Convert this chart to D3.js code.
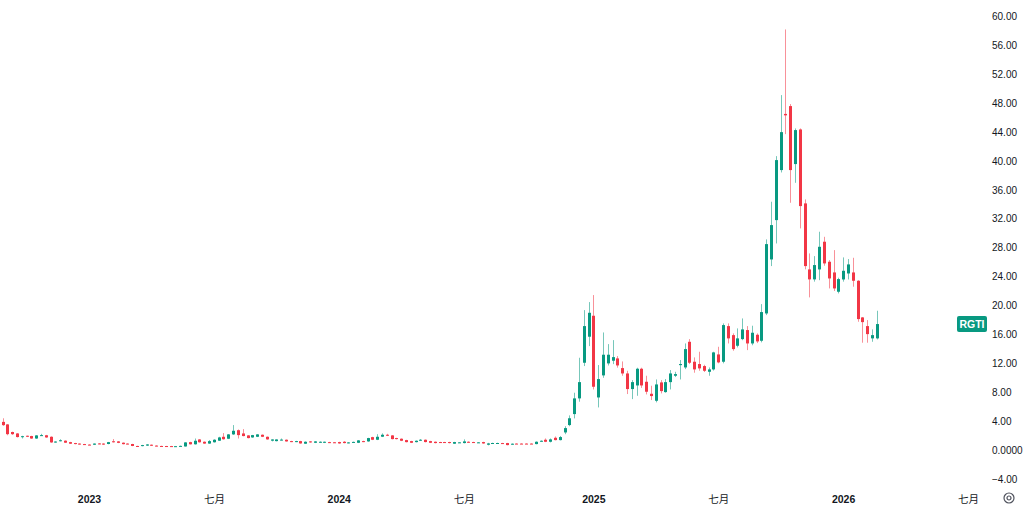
<!DOCTYPE html>
<html>
<head>
<meta charset="utf-8">
<script src="https://cdn.jsdelivr.net/npm/d3@7"></script>
<style>
  html, body { margin: 0; padding: 0; background: #fff; }
  svg { display: block; font-family: "Liberation Sans", "Noto Sans CJK SC", sans-serif; }
</style>
</head>
<body>
<div id="chart"></div>
<script>
// weekly bars, RGTI
const firstWeek = new Date(Date.UTC(2022, 7, 29));
const lastWeek = new Date(Date.UTC(2026, 1, 23));

const open = [
  3.9, 3.55, 2.5, 2.3, 1.85, 1.98, 1.94, 1.6, 1.98, 2.05,
  1.84, 1.1, 1.24, 1.3, 1.1, 0.97, 0.9, 0.83, 0.76, 0.74,
  0.92, 0.9, 0.84, 1.22, 1.2, 1.02, 0.9, 0.84, 0.57, 0.55,
  0.62, 0.74, 0.62, 0.57, 0.56, 0.55, 0.5, 0.53, 0.5, 1.1,
  0.8, 1.47, 1.15, 0.9, 1.08, 1.3, 1.84, 1.57, 2.17, 2.75,
  2.3, 2.03, 1.75, 1.84, 2.12, 1.84, 1.3, 1.24, 1.38, 1.43,
  1.24, 1.15, 1.24, 0.88, 1.2, 1.01, 1.06, 1.01, 1.1, 1.08,
  1.11, 1.15, 0.97, 1.1, 1.01, 1.24, 1.2, 1.79, 1.43, 1.85,
  2.12, 2.03, 1.66, 1.57, 1.38, 1.24, 1.1, 1.3, 1.43, 1.24,
  1.15, 1.11, 1.11, 1.11, 0.88, 1.04, 0.97, 1.15, 1.11, 1.04,
  1.11, 0.74, 0.95, 0.95, 0.97, 0.97, 0.78, 0.9, 0.9, 0.9,
  0.9, 0.83, 1.2, 1.43, 1.15, 1.7, 1.38, 2.44, 3.46, 4.98,
  7.15, 12.08, 15.68, 18.58, 7.28, 10.33, 11.99, 12.36, 12.68, 11.34,
  10.6, 8.44, 8.94, 11.25, 9.45, 7.79, 6.82, 9.36, 8.02, 9.4,
  10.28, 11.75, 11.43, 14.98, 12.22, 11.9, 11.62, 10.83, 11.16, 13.23,
  12.22, 17.15, 15.9, 14.43, 15.35, 16.6, 14.75, 15.95, 15.12, 18.9,
  26.37, 31.81, 38.73, 46.5, 47.58, 39.56, 44.35, 34.12, 24.99, 23.61,
  24.99, 28.82, 26.05, 24.57, 21.9, 23.6, 24.43, 24.57, 23.42, 18.35,
  17.15, 15.45, 15.45, 16.69
];

const high = [
  4.4, 3.6, 2.55, 2.35, 1.98, 2.0, 1.98, 2.07, 2.25, 2.1,
  1.9, 1.22, 1.5, 1.34, 1.14, 1.0, 0.93, 0.86, 0.8, 0.92,
  0.96, 0.93, 1.13, 1.52, 1.25, 1.05, 0.94, 0.87, 0.6, 0.72,
  0.82, 0.77, 0.66, 0.6, 0.58, 0.58, 0.57, 0.62, 1.1, 1.15,
  1.6, 1.52, 1.2, 1.38, 1.5, 1.84, 2.35, 2.22, 3.46, 2.85,
  2.9, 2.07, 2.1, 2.21, 2.16, 1.88, 1.5, 1.5, 1.6, 1.47,
  1.28, 1.28, 1.28, 1.2, 1.24, 1.24, 1.2, 1.18, 1.14, 1.12,
  1.15, 1.24, 1.1, 1.17, 1.38, 1.29, 1.7, 1.84, 2.2, 2.31,
  2.25, 2.07, 1.7, 1.61, 1.42, 1.28, 1.33, 1.52, 1.47, 1.28,
  1.18, 1.14, 1.14, 1.15, 1.14, 1.1, 1.48, 1.2, 1.15, 1.1,
  1.15, 1.0, 1.02, 1.02, 1.0, 1.0, 0.92, 0.93, 0.93, 0.93,
  0.93, 1.2, 1.34, 1.61, 1.61, 1.88, 1.95, 3.3, 4.8, 7.93,
  12.77, 19.36, 20.47, 21.44, 11.76, 16.27, 14.66, 15.21, 13.0, 12.26,
  10.97, 9.68, 11.39, 11.39, 10.28, 8.9, 9.77, 9.68, 9.82, 11.07,
  10.83, 12.45, 14.75, 15.35, 12.82, 13.6, 11.8, 11.43, 13.6, 14.29,
  17.52, 17.52, 16.14, 16.83, 18.21, 17.15, 17.2, 16.14, 20.19, 29.14,
  34.35, 40.66, 49.1, 58.18, 47.86, 44.49, 44.49, 34.67, 27.2, 26.83,
  30.2, 29.5, 26.28, 27.66, 23.84, 26.65, 26.42, 26.6, 23.5, 18.4,
  17.98, 16.69, 19.27, 17.8
];

const low = [
  3.35, 2.05, 2.1, 1.75, 1.6, 1.8, 1.55, 1.55, 1.95, 1.7,
  1.0, 1.02, 1.2, 0.98, 0.85, 0.8, 0.76, 0.72, 0.68, 0.7,
  0.8, 0.72, 0.8, 1.04, 0.96, 0.79, 0.8, 0.54, 0.46, 0.52,
  0.58, 0.57, 0.52, 0.5, 0.49, 0.47, 0.47, 0.5, 0.48, 0.77,
  0.76, 1.04, 0.86, 0.86, 1.04, 1.26, 1.45, 1.52, 2.1, 1.6,
  1.9, 1.62, 1.7, 1.8, 1.8, 1.43, 1.2, 1.2, 1.34, 1.16,
  1.1, 1.1, 0.88, 0.85, 1.02, 0.97, 1.02, 0.97, 0.97, 1.0,
  0.88, 0.93, 0.93, 1.06, 0.97, 1.1, 1.15, 1.38, 1.38, 1.8,
  1.94, 1.48, 1.48, 1.24, 1.06, 0.97, 1.06, 1.26, 1.06, 0.97,
  0.93, 1.0, 1.0, 0.93, 0.85, 1.0, 0.93, 1.02, 1.02, 1.0,
  0.88, 0.65, 0.92, 0.92, 0.88, 0.66, 0.74, 0.83, 0.83, 0.83,
  0.83, 0.8, 1.15, 1.1, 1.06, 1.34, 1.34, 2.2, 3.3, 4.38,
  6.69, 11.62, 14.38, 8.39, 5.9, 10.0, 11.7, 11.89, 11.4, 10.28,
  7.75, 7.05, 7.51, 8.6, 7.7, 6.92, 6.6, 7.84, 7.93, 8.39,
  10.1, 9.77, 11.2, 11.9, 10.7, 10.97, 10.8, 10.28, 11.0, 12.0,
  12.0, 14.75, 13.74, 14.2, 15.2, 13.83, 14.5, 14.8, 14.9, 18.67,
  25.45, 28.58, 38.4, 43.7, 34.21, 36.97, 30.66, 25.0, 21.12, 23.3,
  23.5, 25.5, 22.36, 22.0, 21.67, 23.3, 23.6, 22.6, 17.75, 14.85,
  14.85, 14.98, 15.3, 16.5
];

const close = [
  3.45, 2.2, 2.2, 1.8, 1.92, 1.88, 1.6, 2.03, 2.07, 1.75,
  1.06, 1.18, 1.36, 1.02, 0.88, 0.83, 0.8, 0.75, 0.71, 0.9,
  0.84, 0.76, 1.1, 1.08, 1.0, 0.82, 0.84, 0.57, 0.5, 0.69,
  0.78, 0.6, 0.55, 0.53, 0.52, 0.5, 0.54, 0.58, 1.06, 0.8,
  1.29, 1.08, 0.9, 1.24, 1.43, 1.75, 1.5, 2.17, 2.67, 2.07,
  1.94, 1.66, 2.07, 2.17, 1.84, 1.48, 1.47, 1.47, 1.45, 1.2,
  1.15, 1.24, 0.92, 1.15, 1.06, 1.2, 1.15, 1.15, 1.01, 1.04,
  0.92, 0.97, 1.06, 1.13, 1.34, 1.15, 1.66, 1.43, 1.84, 2.12,
  1.98, 1.52, 1.52, 1.29, 1.1, 1.01, 1.29, 1.43, 1.11, 1.01,
  0.97, 1.04, 1.03, 0.97, 1.11, 1.07, 1.2, 1.06, 1.06, 1.07,
  0.92, 0.92, 0.98, 0.98, 0.92, 0.69, 0.88, 0.86, 0.86, 0.86,
  0.86, 1.15, 1.29, 1.15, 1.48, 1.38, 1.8, 3.04, 4.4, 7.15,
  9.4, 17.15, 18.99, 8.76, 9.82, 13.19, 13.19, 12.86, 11.71, 10.6,
  8.44, 9.4, 11.25, 8.94, 8.07, 7.47, 9.08, 8.16, 9.4, 10.6,
  10.51, 11.9, 13.97, 12.08, 11.16, 11.3, 10.97, 11.16, 13.51, 12.13,
  17.29, 15.45, 13.97, 15.45, 16.69, 14.75, 16.23, 15.03, 19.09, 28.49,
  31.12, 40.11, 43.98, 46.3, 38.73, 44.26, 33.75, 25.45, 23.61, 25.59,
  28.12, 25.82, 23.74, 22.36, 23.65, 24.8, 25.68, 23.42, 18.12, 17.7,
  16.04, 15.9, 17.43, 17.5
];

const priceTicks = d3.range(-4, 61, 4);
const timeTicks = [
  Date.UTC(2023, 0, 2), Date.UTC(2023, 6, 3), Date.UTC(2024, 0, 1), Date.UTC(2024, 6, 1),
  Date.UTC(2025, 0, 6), Date.UTC(2025, 6, 7), Date.UTC(2026, 0, 5), Date.UTC(2026, 6, 6)
].map((t) => new Date(t));
const timeLabels = ["2023", "七月", "2024", "七月", "2025", "七月", "2026", "七月"];
const symbol = "RGTI";

const Width = 1024;
const Height = 509;
const upColor = "#089981";
const downColor = "#F23645";
const textColor = "#131722";

const weeks = d3.utcMonday.range(firstWeek, d3.utcDay.offset(lastWeek, 1));
const data = weeks.map((d, i) => ({ date: d, o: open[i], h: high[i], l: low[i], c: close[i] }));

const x = d3.scaleUtc()
  .domain([timeTicks[0], timeTicks[timeTicks.length - 1]])
  .range([89, 968]);
const y = d3.scaleLinear().domain([-4, 60]).range([479, 16.3]);

const svg = d3.select("#chart")
  .append("svg")
  .attr("width", Width)
  .attr("height", Height);

const candles = svg.append("g")
  .selectAll("g")
  .data(data)
  .join("g");

// wicks
candles.append("line")
  .attr("x1", (d) => Math.round(x(d.date)) + 0.5)
  .attr("x2", (d) => Math.round(x(d.date)) + 0.5)
  .attr("y1", (d) => y(d.h))
  .attr("y2", (d) => y(d.l))
  .attr("stroke", (d) => (d.c >= d.o ? upColor : downColor))
  .attr("stroke-opacity", 0.55)
  .attr("stroke-width", 1);

// bodies
candles.append("rect")
  .attr("x", (d) => Math.round(x(d.date)) - 1)
  .attr("width", 3)
  .attr("y", (d) => y(Math.max(d.o, d.c)))
  .attr("height", (d) => Math.max(1, Math.abs(y(d.o) - y(d.c))))
  .attr("fill", (d) => (d.c >= d.o ? upColor : downColor));

// price scale
const yAxis = svg.append("g")
  .attr("transform", "translate(992,0)")
  .call(
    d3.axisRight(y)
      .tickValues(priceTicks)
      .tickSize(0)
      .tickPadding(0)
      .tickFormat((v) => (v === 0 ? "0.0000" : (v < 0 ? "\u2212" : "") + Math.abs(v).toFixed(2)))
  );
yAxis.select(".domain").remove();
yAxis.selectAll("text")
  .attr("font-size", 10)
  .attr("font-family", "'Liberation Sans', sans-serif")
  .attr("fill", textColor);

// time scale
const xAxis = svg.append("g")
  .attr("transform", "translate(0,489)")
  .call(
    d3.axisBottom(x)
      .tickValues(timeTicks)
      .tickSize(0)
      .tickPadding(7)
      .tickFormat((d, i) => timeLabels[i])
  );
xAxis.select(".domain").remove();
xAxis.selectAll("text")
  .attr("font-size", 10.5)
  .attr("font-family", "'Liberation Sans', 'Noto Sans CJK SC', sans-serif")
  .attr("font-weight", (d, i) => (/^\d/.test(timeLabels[i]) ? 700 : 400))
  .attr("fill", textColor);

// symbol label at last close
const last = data[data.length - 1];
const tag = svg.append("g").attr("transform", `translate(957,${y(last.c)})`);
tag.append("rect")
  .attr("y", -8)
  .attr("width", 30)
  .attr("height", 16)
  .attr("rx", 2)
  .attr("fill", last.c >= last.o ? upColor : downColor);
tag.append("text")
  .attr("x", 15)
  .attr("dy", "0.35em")
  .attr("text-anchor", "middle")
  .attr("font-size", 10.5)
  .attr("font-weight", 700)
  .attr("fill", "#fff")
  .text(symbol);

// settings icon in the corner
const icon = svg.append("g").attr("transform", "translate(1009,498)");
icon.append("circle").attr("r", 5).attr("fill", "none").attr("stroke", "#50535e").attr("stroke-width", 1.2);
icon.append("circle").attr("r", 2).attr("fill", "none").attr("stroke", "#50535e").attr("stroke-width", 1.2);
</script>
</body>
</html>
